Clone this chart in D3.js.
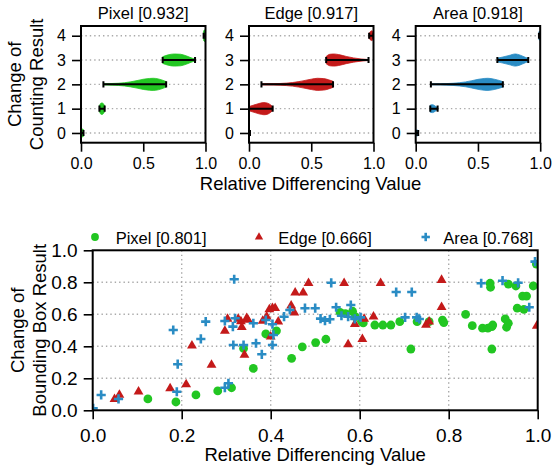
<!DOCTYPE html>
<html><head><meta charset="utf-8">
<script src="https://cdn.jsdelivr.net/npm/d3@7"></script>
<style>
body{margin:0;background:#fff}
svg{display:block}
text{font-family:"Liberation Sans",Arial,Helvetica,sans-serif;fill:#000}
</style>
</head><body>
<svg id="chart" width="552" height="470"></svg>
<script>
// ---------------- DATA ----------------
const panelNames = ["Pixel [0.932]", "Edge [0.917]", "Area [0.918]"];
const seriesColors = ["#22c622", "#c41a1a", "#2a8cc4"];
const countLevels = [0, 1, 2, 3, 4];
const topXTicks = [0, 0.5, 1.0];
const bottomTicks = [0, 0.2, 0.4, 0.6, 0.8, 1.0];
const legendNames = ["Pixel [0.801]", "Edge [0.666]", "Area [0.768]"];

// violins: level, [value, relative half-width] profile
const pixelViolins = [
  {level: 0, profile: [[0, 0.6], [0.01, 0.65], [0.02, 0.55]]},
  {level: 1, profile: [[0.148, 0.5], [0.16, 0.9], [0.17, 0.95], [0.18, 0.8], [0.19, 0.45]]},
  {level: 2, profile: [[0.18, 0.1], [0.25, 0.14], [0.3, 0.18], [0.35, 0.27], [0.4, 0.42], [0.45, 0.62], [0.5, 0.84], [0.55, 0.97], [0.58, 1.0], [0.62, 0.9], [0.65, 0.72], [0.684, 0.45]]},
  {level: 3, profile: [[0.656, 0.55], [0.7, 0.85], [0.75, 1.0], [0.8, 0.95], [0.85, 0.65], [0.9, 0.25], [0.916, 0.15]]},
  {level: 4, profile: [[0.985, 0.8], [0.993, 0.95], [1.0, 0.8]]}
];
const edgeViolins = [
  {level: 0, profile: [[0, 0.5], [0.008, 0.4]]},
  {level: 1, profile: [[0, 0.35], [0.04, 0.6], [0.08, 0.85], [0.12, 1.0], [0.15, 0.9], [0.175, 0.6], [0.19, 0.3]]},
  {level: 2, profile: [[0.10, 0.1], [0.2, 0.12], [0.3, 0.2], [0.4, 0.45], [0.45, 0.65], [0.5, 0.85], [0.55, 1.0], [0.6, 0.95], [0.64, 0.75], [0.675, 0.5]]},
  {level: 3, profile: [[0.62, 0.6], [0.65, 0.95], [0.68, 1.0], [0.72, 0.9], [0.78, 0.6], [0.84, 0.35], [0.9, 0.18], [0.96, 0.08]]},
  {level: 4, profile: [[0.965, 0.4], [0.985, 0.8], [1.0, 0.6]]}
];
const areaViolins = [
  {level: 0, profile: [[0, 0.45], [0.01, 0.5], [0.02, 0.4]]},
  {level: 1, profile: [[0.117, 0.6], [0.135, 0.65], [0.155, 0.45], [0.176, 0.15]]},
  {level: 2, profile: [[0.122, 0.08], [0.2, 0.1], [0.3, 0.18], [0.4, 0.4], [0.45, 0.6], [0.5, 0.82], [0.55, 0.97], [0.58, 1.0], [0.63, 0.85], [0.67, 0.65], [0.70, 0.45]]},
  {level: 3, profile: [[0.656, 0.3], [0.7, 0.5], [0.75, 0.75], [0.8, 1.0], [0.84, 0.8], [0.88, 0.45], [0.904, 0.25]]},
  {level: 4, profile: [[0.99, 0.7], [1.0, 0.7]]}
];

// scatter points [relative differencing value, change of bounding box]
const pixelPoints = [
  [0.124,0.071],[0.187,0.052],[0.232,0.096],[0.281,0.121],[0.312,0.141],[0.339,0.387],[0.361,0.262],
  [0.389,0.477],[0.413,0.497],[0.447,0.325],[0.471,0.397],[0.501,0.423],[0.524,0.444],
  [0.556,0.612],[0.568,0.604],[0.584,0.619],[0.590,0.585],[0.604,0.556],[0.608,0.546],
  [0.634,0.533],[0.652,0.533],[0.670,0.533],[0.690,0.554],[0.715,0.383],[0.729,0.554],[0.756,0.554],
  [0.786,0.564],[0.789,0.548],[0.838,0.600],[0.853,0.529],[0.876,0.513],[0.888,0.513],[0.897,0.523],
  [0.899,0.533],[0.897,0.383],[0.893,0.794],[0.894,0.769],[0.927,0.571],[0.930,0.519],[0.934,0.544],
  [0.934,0.789],[0.951,0.777],[0.954,0.638],[0.969,0.631],[0.966,0.714],[0.975,0.714],[0.990,0.777],[0.997,0.914]
];
const edgePoints = [
  [0.049,0.069],[0.060,0.096],[0.103,0.116],[0.174,0.137],[0.210,0.162],[0.223,0.404],[0.267,0.283],
  [0.297,0.496],[0.303,0.571],[0.327,0.571],[0.333,0.556],[0.335,0.519],[0.341,0.346],[0.346,0.575],
  [0.349,0.565],[0.382,0.558],[0.391,0.585],[0.397,0.631],[0.400,0.460],[0.404,0.638],[0.410,0.638],
  [0.417,0.554],[0.446,0.654],[0.453,0.610],[0.455,0.735],[0.473,0.735],[0.485,0.794],[0.565,0.794],
  [0.574,0.412],[0.589,0.539],[0.606,0.444],[0.610,0.571],[0.631,0.585],[0.647,0.794],[0.749,0.533],
  [0.756,0.554],[0.784,0.644],[0.784,0.814],[0.998,0.527]
];
const areaPoints = [
  [0.001,0.0125],[0.019,0.096],[0.058,0.071],[0.181,0.502],[0.189,0.116],[0.191,0.288],[0.243,0.446],
  [0.254,0.554],[0.297,0.141],[0.305,0.169],[0.297,0.558],[0.318,0.819],[0.316,0.408],[0.315,0.523],
  [0.320,0.575],[0.339,0.408],[0.361,0.544],[0.367,0.419],[0.380,0.350],[0.389,0.564],[0.404,0.538],
  [0.404,0.408],[0.406,0.471],[0.430,0.585],[0.443,0.627],[0.477,0.638],[0.500,0.638],[0.512,0.573],
  [0.522,0.560],[0.533,0.569],[0.536,0.797],[0.547,0.644],[0.559,0.591],[0.574,0.585],[0.580,0.658],
  [0.589,0.571],[0.602,0.581],[0.682,0.739],[0.717,0.739],[0.702,0.581],[0.728,0.581],[0.734,0.571],
  [0.873,0.794],[0.921,0.810],[0.956,0.797],[0.981,0.644],[0.994,0.929]
];

// ---------------- DRAW ----------------
const svg = d3.select("#chart");
const FONT = '"Liberation Sans",Arial,Helvetica,sans-serif';
const gridStyle = sel => sel.attr("stroke", "#aaaaaa").attr("stroke-width", 1.4).attr("stroke-dasharray", "1.4,3");

// ---- top violin panels ----
const panelLefts = [81, 249, 415.7];
const panelW = 124.5, panelTop = 26, panelBottom = 142.7;
const violinSets = [pixelViolins, edgeViolins, areaViolins];
const halfWidth = 0.25, capHalf = 0.125;

panelLefts.forEach((left, i) => {
  const x = d3.scaleLinear().domain([0, 1]).range([left, left + panelW]);
  const y = d3.scaleLinear().domain([-0.4, 4.4]).range([panelBottom, panelTop]);
  const g = svg.append("g");
  const clipId = "clipTop" + i;
  svg.append("clipPath").attr("id", clipId).append("rect")
    .attr("x", left).attr("y", panelTop).attr("width", panelW).attr("height", panelBottom - panelTop);

  g.selectAll("line.grid").data(countLevels).join("line")
    .attr("x1", x(0)).attr("x2", x(1)).attr("y1", d => y(d)).attr("y2", d => y(d))
    .call(gridStyle);

  const vg = g.append("g").attr("clip-path", `url(#${clipId})`);
  violinSets[i].forEach(v => {
    const a = d3.area()
      .x(d => x(d[0]))
      .y0(d => y(v.level + d[1] * halfWidth))
      .y1(d => y(v.level - d[1] * halfWidth))
      .curve(d3.curveMonotoneX);
    vg.append("path").attr("d", a(v.profile)).attr("fill", seriesColors[i]).attr("stroke", seriesColors[i]).attr("stroke-width", 0.8);
    const mn = v.profile[0][0], mx = v.profile[v.profile.length - 1][0];
    vg.append("line").attr("x1", x(mn)).attr("x2", x(mx)).attr("y1", y(v.level)).attr("y2", y(v.level))
      .attr("stroke", "#000").attr("stroke-width", 2);
    [mn, mx].forEach(e => vg.append("line").attr("x1", x(e)).attr("x2", x(e))
      .attr("y1", y(v.level - capHalf)).attr("y2", y(v.level + capHalf))
      .attr("stroke", "#000").attr("stroke-width", 2));
  });

  // box
  g.append("rect").attr("x", left).attr("y", panelTop).attr("width", panelW).attr("height", panelBottom - panelTop)
    .attr("fill", "none").attr("stroke", "#000").attr("stroke-width", 2);

  const ax = g.append("g").attr("transform", `translate(0,${panelBottom})`)
    .call(d3.axisBottom(x).tickValues(topXTicks).tickFormat(d3.format(".1f")).tickSize(9).tickPadding(6));
  const ay = g.append("g").attr("transform", `translate(${left},0)`)
    .call(d3.axisLeft(y).tickValues(countLevels).tickFormat(d3.format("d")).tickSize(9).tickPadding(6));
  [ax, ay].forEach(a => {
    a.select(".domain").remove();
    a.selectAll("line").attr("stroke", "#000").attr("stroke-width", 1.6);
    a.selectAll("text").attr("font-size", 16).attr("font-family", FONT).attr("fill", "#000");
  });

  g.append("text").attr("x", left + panelW / 2).attr("y", 19).attr("text-anchor", "middle")
    .attr("font-size", 16.5).text(panelNames[i]);
});

svg.append("text").attr("x", (panelLefts[0] + panelLefts[2] + panelW) / 2).attr("y", 190)
  .attr("text-anchor", "middle").attr("font-size", 18.5).text("Relative Differencing Value");

const topYLabel = svg.append("text").attr("transform", `translate(0,${(panelTop + panelBottom) / 2}) rotate(-90)`)
  .attr("text-anchor", "middle").attr("font-size", 18.5);
topYLabel.append("tspan").attr("x", 0).attr("y", 21).text("Change of");
topYLabel.append("tspan").attr("x", 0).attr("y", 43).text("Counting Result");

// ---- bottom scatter ----
const bL = 92.7, bR = 537.7, bT = 250.3, bB = 410.3;
const bx = d3.scaleLinear().domain([0, 1]).range([bL, bR]);
const by = d3.scaleLinear().domain([0, 1]).range([bB, bT]);
const bg = svg.append("g");
svg.append("clipPath").attr("id", "clipBottom").append("rect")
  .attr("x", bL).attr("y", bT).attr("width", bR - bL).attr("height", bB - bT);

const innerTicks = bottomTicks.filter(t => t > 0 && t < 1);
bg.selectAll("line.gx").data(innerTicks).join("line")
  .attr("x1", d => bx(d)).attr("x2", d => bx(d)).attr("y1", bT).attr("y2", bB).call(gridStyle);
bg.selectAll("line.gy").data(innerTicks).join("line")
  .attr("y1", d => by(d)).attr("y2", d => by(d)).attr("x1", bL).attr("x2", bR).call(gridStyle);

const pg = bg.append("g").attr("clip-path", "url(#clipBottom)");
const drawCircle = (g, cx, cy, r, c) => g.append("circle").attr("cx", cx).attr("cy", cy).attr("r", r).attr("fill", c);
const triSym = d3.symbol().type(d3.symbolTriangle);
const drawTri = (g, cx, cy, s, c) => g.append("path").attr("d", triSym.size(s)()).attr("transform", `translate(${cx},${cy})`).attr("fill", c);
const drawPlus = (g, cx, cy, h, c) => {
  g.append("line").attr("x1", cx - h).attr("x2", cx + h).attr("y1", cy).attr("y2", cy).attr("stroke", c).attr("stroke-width", 2.6);
  g.append("line").attr("x1", cx).attr("x2", cx).attr("y1", cy - h).attr("y2", cy + h).attr("stroke", c).attr("stroke-width", 2.6);
};
pixelPoints.forEach(p => drawCircle(pg, bx(p[0]), by(p[1]), 4.4, seriesColors[0]));
edgePoints.forEach(p => drawTri(pg, bx(p[0]), by(p[1]), 42, seriesColors[1]));
areaPoints.forEach(p => drawPlus(pg, bx(p[0]), by(p[1]), 4.6, seriesColors[2]));

bg.append("rect").attr("x", bL).attr("y", bT).attr("width", bR - bL).attr("height", bB - bT)
  .attr("fill", "none").attr("stroke", "#000").attr("stroke-width", 2);

const bax = bg.append("g").attr("transform", `translate(0,${bB})`)
  .call(d3.axisBottom(bx).tickValues(bottomTicks).tickFormat(d3.format(".1f")).tickSize(9).tickPadding(9));
const bay = bg.append("g").attr("transform", `translate(${bL},0)`)
  .call(d3.axisLeft(by).tickValues(bottomTicks).tickFormat(d3.format(".1f")).tickSize(9).tickPadding(6));
[bax, bay].forEach(a => {
  a.select(".domain").remove();
  a.selectAll("line").attr("stroke", "#000").attr("stroke-width", 1.6);
  a.selectAll("text").attr("font-size", 19).attr("font-family", FONT).attr("fill", "#000");
});

svg.append("text").attr("x", (bL + bR) / 2).attr("y", 461).attr("text-anchor", "middle")
  .attr("font-size", 18.5).text("Relative Differencing Value");

const botYLabel = svg.append("text").attr("transform", `translate(0,${(bT + bB) / 2}) rotate(-90)`)
  .attr("text-anchor", "middle").attr("font-size", 18.5);
botYLabel.append("tspan").attr("x", 0).attr("y", 24).text("Change of");
botYLabel.append("tspan").attr("x", 0).attr("y", 46).text("Bounding Box Result");

// legend
const legMarkX = [95, 259, 425.7], legTextX = [115.7, 278.3, 443.3], legY = 237;
const lg = svg.append("g");
drawCircle(lg, legMarkX[0], legY, 3.9, seriesColors[0]);
drawTri(lg, legMarkX[1], legY, 30, seriesColors[1]);
drawPlus(lg, legMarkX[2], legY, 4.2, seriesColors[2]);
legendNames.forEach((n, i) => lg.append("text").attr("x", legTextX[i]).attr("y", legY + 7).attr("font-size", 16.5).text(n));
</script>
</body></html>
